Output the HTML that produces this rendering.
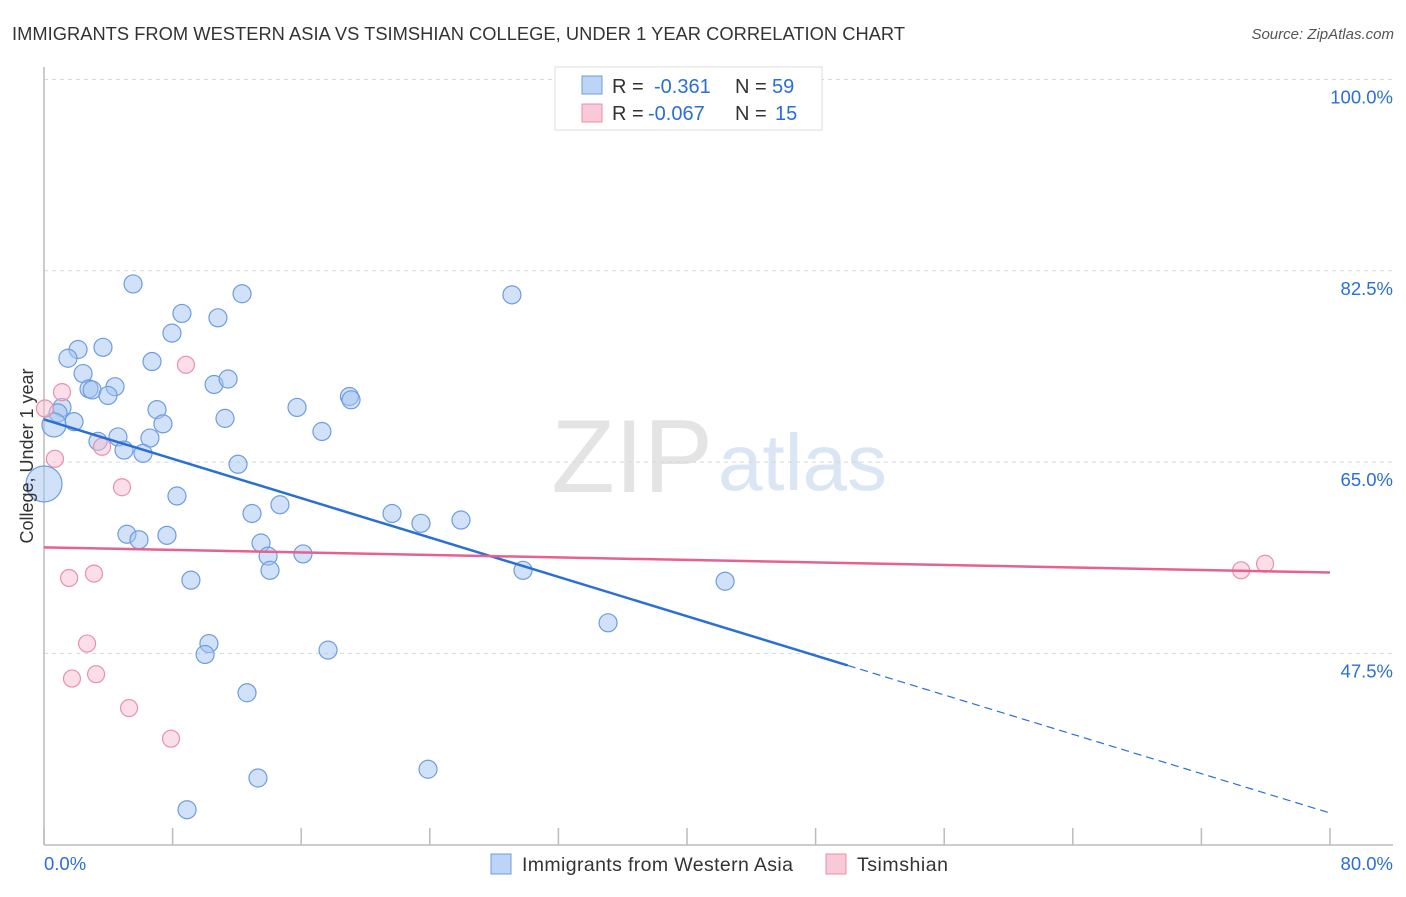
<!DOCTYPE html>
<html><head><meta charset="utf-8">
<style>
body{margin:0;background:#fff;font-family:"Liberation Sans",sans-serif;}
svg text{font-family:"Liberation Sans",sans-serif;}
</style></head><body>
<svg id="chart" width="1406" height="892" xmlns="http://www.w3.org/2000/svg">
<text x="12" y="40" font-size="18.3" fill="#333" textLength="893">IMMIGRANTS FROM WESTERN ASIA VS TSIMSHIAN COLLEGE, UNDER 1 YEAR CORRELATION CHART</text>
<text x="1394" y="39" font-size="15" fill="#555" font-style="italic" text-anchor="end">Source: ZipAtlas.com</text>
<text x="713" y="492" font-size="104" fill="#e4e4e4" font-family="Liberation Serif" text-anchor="end">ZIP</text>
<text x="718" y="490" font-size="80" fill="#dbe6f5">atlas</text>
<g id="grid"></g>
<g id="axes"></g>
<g id="points"></g>
<g id="trend"></g>
<text transform="translate(33,456) rotate(-90)" font-size="18" fill="#333" text-anchor="middle">College, Under 1 year</text>
<g>
<rect x="555" y="67" width="267" height="63" fill="#fff" stroke="#ddd"/>
<rect x="582" y="76" width="20" height="18" fill="#bcd4f5" stroke="#6d9de0"/>
<rect x="582" y="104" width="20" height="18" fill="#f9c9d7" stroke="#e891ab"/>
<text x="612" y="93" font-size="20" fill="#333">R = <tspan x="654" fill="#2a6fd6">-0.361</tspan><tspan x="735" fill="#333">N = </tspan><tspan x="772" fill="#2a6fd6">59</tspan></text>
<text x="612" y="120" font-size="20" fill="#333">R = <tspan x="648" fill="#2a6fd6">-0.067</tspan><tspan x="735" fill="#333">N = </tspan><tspan x="775" fill="#2a6fd6">15</tspan></text>
</g>
<g>
<rect x="491" y="854" width="20" height="20" fill="#bcd4f5" stroke="#6d9de0"/>
<text x="522" y="871" font-size="19.5" fill="#333" textLength="271">Immigrants from Western Asia</text>
<rect x="826" y="854" width="20" height="20" fill="#f9c9d7" stroke="#e891ab"/>
<text x="857" y="871" font-size="19.5" fill="#333" textLength="91">Tsimshian</text>
</g>
</svg>
<script>
const blueX=[5.54,12.32,29.11,8.58,10.82,7.96,3.67,2.12,1.49,6.72,2.43,4.42,2.80,2.99,10.58,11.45,3.98,19.0,19.1,15.74,7.03,1.12,0.87,11.26,1.87,7.40,17.29,0.62,3.36,4.60,6.59,4.98,6.16,12.07,0.0,8.27,14.68,12.94,21.65,23.45,25.94,5.16,5.91,7.65,13.50,13.94,16.11,14.06,29.80,9.14,42.37,35.09,10.26,10.02,17.67,12.63,23.89,13.31,8.90];
const blueY=[81.3,80.4,80.3,78.6,78.2,76.8,75.5,75.3,74.5,74.2,73.1,71.9,71.7,71.6,72.1,72.6,71.1,71.0,70.7,70.0,69.8,70.0,69.5,69.0,68.7,68.5,67.8,68.4,66.9,67.3,67.2,66.1,65.8,64.8,63.0,61.9,61.1,60.3,60.3,59.4,59.7,58.4,57.9,58.3,57.6,56.4,56.6,55.1,55.1,54.2,54.1,50.3,48.4,47.4,47.8,43.9,36.9,36.1,33.2];
const pinkX=[0.06,1.12,0.68,3.61,4.85,8.83,1.56,3.11,2.68,1.74,3.24,5.29,7.90,74.47,75.96];
const pinkY=[69.9,71.4,65.3,66.4,62.7,73.9,54.4,54.8,48.4,45.2,45.6,42.5,39.7,55.1,55.7];
const yTicks=[100,82.5,65,47.5];
const yTickLabels=["100.0%","82.5%","65.0%","47.5%"];
const xTickLabels=["0.0%","80.0%"];
const blueTrend=[68.9,46.4,32.9]; // at x=0, 50, 80
const pinkTrend=[57.2,54.9]; // at x=0, 80
const NS="http://www.w3.org/2000/svg";
function sx(v){return 44+v/80*1286;}
function sy(v){return 79.5+(100-v)/17.5*191.3;}
function mk(tag,attrs,parent){const e=document.createElementNS(NS,tag);for(const k in attrs)e.setAttribute(k,attrs[k]);document.getElementById(parent).appendChild(e);return e;}
yTicks.forEach((t,i)=>{
  const l=mk('line',{x1:44,x2:1393,y1:sy(t),y2:sy(t),stroke:'#d8d8d8','stroke-dasharray':'4,4'},'grid');
  
  
  const tx=mk('text',{x:1393,y:sy(t)+24,'font-size':18.5,fill:'#2a6fd6','text-anchor':'end'},'grid');
  tx.textContent=yTickLabels[i];
  
  
});
const a1=mk('line',{x1:44,x2:44,y1:67,y2:845,stroke:'#bbb','stroke-width':1.5},'axes');


const a2=mk('line',{x1:44,x2:1393,y1:845,y2:845,stroke:'#bbb','stroke-width':1.5},'axes');


for(let i=0;i<=10;i++){
  const t=mk('line',{x1:sx(i*8),x2:sx(i*8),y1:828,y2:845,stroke:'#bbb','stroke-width':1.5},'axes');
  
  
}
[[0,'start',44],[80,'end',1393]].forEach((d,i)=>{
  const tx=mk('text',{x:d[2],y:870,'font-size':18.5,fill:'#2a6fd6','text-anchor':d[1]},'axes');
  tx.textContent=xTickLabels[i];
  
  
});
blueX.forEach((x,i)=>{
  let r=9; if(i===27) r=12; if(i===34) r=18;
  const c=mk('circle',{cx:sx(x),cy:sy(blueY[i]),r:r,fill:'rgba(164,196,240,0.5)',stroke:'#6d9de0','stroke-width':1.2},'points');
  
  
});
pinkX.forEach((x,i)=>{
  const c=mk('circle',{cx:sx(x),cy:sy(pinkY[i]),r:8.5,fill:'rgba(247,190,208,0.5)',stroke:'#e891ab','stroke-width':1.2},'points');
  
  
});
const b1=mk('line',{x1:sx(0),y1:sy(blueTrend[0]),x2:sx(50),y2:sy(blueTrend[1]),stroke:'#2a6fd6','stroke-width':2.5},'trend');


const b2=mk('line',{x1:sx(50),y1:sy(blueTrend[1]),x2:sx(80),y2:sy(blueTrend[2]),stroke:'#2a6fd6','stroke-width':1.2,'stroke-dasharray':'8,5'},'trend');


const p1=mk('line',{x1:sx(0),y1:sy(pinkTrend[0]),x2:sx(80),y2:sy(pinkTrend[1]),stroke:'#e8608f','stroke-width':2.5},'trend');


</script>
</body></html>
